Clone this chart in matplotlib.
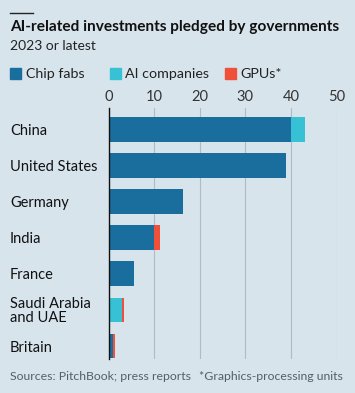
import matplotlib
matplotlib.use("Agg")
import matplotlib.pyplot as plt
from matplotlib.patches import Rectangle
from matplotlib.lines import Line2D
import matplotlib.transforms as mtransforms
import numpy as np

plt.rcParams['font.family'] = ['Lato', 'DejaVu Sans']

countries = ["China", "United States", "Germany", "India", "France",
             "Saudi Arabia\nand UAE", "Britain"]
chip_fabs = [40.0, 39.0, 16.4, 10.0, 5.5, 0.0, 1.0]
ai_companies = [3.0, 0.0, 0.0, 0.0, 0.0, 3.0, 0.0]
gpus = [0.0, 0.0, 0.0, 1.2, 0.0, 0.3, 0.35]
series_names = ["Chip fabs", "AI companies", "GPUs*"]
xticks = [0, 10, 20, 30, 40, 50]

bg = "#d7e4ec"
c_chip = "#1a6e9e"
c_ai = "#36c2d4"
c_gpu = "#f0503a"
colors = [c_chip, c_ai, c_gpu]

W, H = 355, 393
fig = plt.figure(figsize=(W / 100, H / 100), dpi=100, facecolor=bg)

ax = fig.add_axes([108.5 / W, 1 - 359 / H, (336.5 - 108.5) / W, (359 - 108) / H])
ax.set_facecolor(bg)

y = np.arange(len(countries))
chip = np.array(chip_fabs)
ai = np.array(ai_companies)
gp = np.array(gpus)
h = 0.69
ax.barh(y, chip, height=h, color=c_chip, zorder=3)
ax.barh(y, ai, left=chip, height=h, color=c_ai, zorder=3)
ax.barh(y, gp, left=chip + ai, height=h, color=c_gpu, zorder=3)

ax.set_xlim(0, 50)
ax.set_ylim(6.36, -0.6)
ax.set_xticks(xticks)
ax.xaxis.tick_top()
ax.tick_params(axis='x', length=0, pad=3, labelsize=10.5, labelcolor="#333333")
ax.set_yticks(y)
ax.set_yticklabels(countries, fontsize=10.5, color="#111111", linespacing=1.0)
ax.tick_params(axis='y', length=0, pad=0)
for lab in ax.get_yticklabels():
    lab.set_horizontalalignment('left')
    lab.set_transform(mtransforms.blended_transform_factory(fig.transFigure, ax.transData))
    lab.set_x(10 / W)

ax.grid(axis='x', color="#aebcc6", linewidth=0.8, zorder=0)
for s in ["top", "right", "bottom"]:
    ax.spines[s].set_visible(False)
ax.spines["left"].set_color("#111111")
ax.spines["left"].set_linewidth(1.0)
ax.spines["left"].set_zorder(5)

# top rule
fig.add_artist(Line2D([10 / W, 33 / W], [1 - 13 / H, 1 - 13 / H], color="#222222", linewidth=1.0))

fig.text(10 / W, 1 - 27 / H, "AI-related investments pledged by governments",
         fontsize=11.1, fontweight="bold", color="#111111", va="center", ha="left")
fig.text(10 / W, 1 - 46 / H, "2023 or latest", fontsize=10, color="#222222", va="center", ha="left")

leg_x = [10, 110, 225]
for lx, name, col in zip(leg_x, series_names, colors):
    fig.add_artist(Rectangle((lx / W, 1 - 79 / H), 11 / W, 11 / H, color=col, transform=fig.transFigure))
    fig.text((lx + 15.5) / W, 1 - 73.5 / H, name, fontsize=10.3, color="#222222", va="center", ha="left")

fig.text(10 / W, 1 - 377 / H, "Sources: PitchBook; press reports", fontsize=8.8,
         color="#555f66", va="center", ha="left")
fig.text(343 / W, 1 - 377 / H, "*Graphics-processing units", fontsize=8.8,
         color="#555f66", va="center", ha="right")

fig.savefig("out.png", dpi=100, facecolor=bg)
